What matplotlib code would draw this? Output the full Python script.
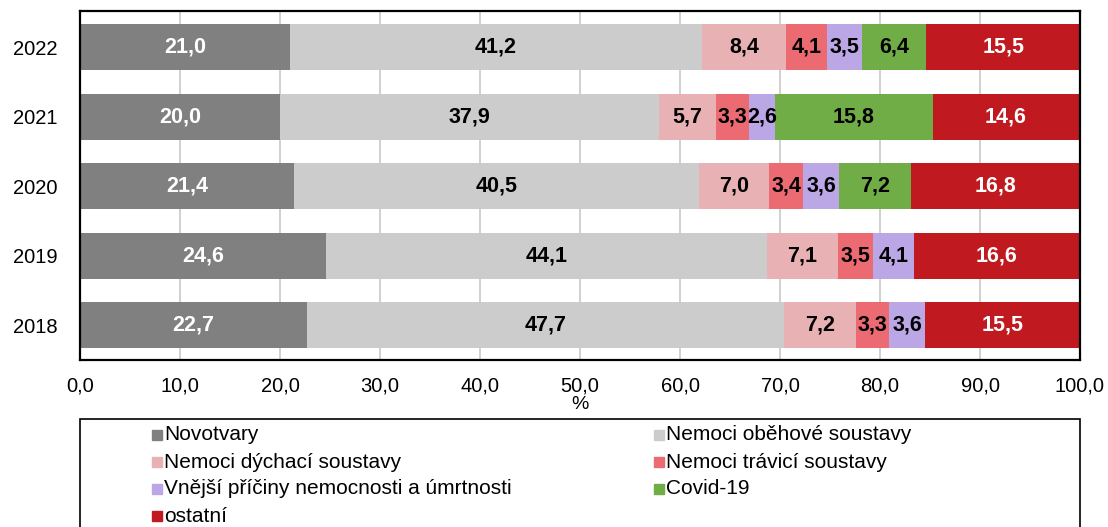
import matplotlib.pyplot as plt
from matplotlib.patches import Rectangle

years = ["2018", "2019", "2020", "2021", "2022"]
categories = [
    "Novotvary",
    "Nemoci oběhové soustavy",
    "Nemoci dýchací soustavy",
    "Nemoci trávicí soustavy",
    "Vnější příčiny nemocnosti a úmrtnosti",
    "Covid-19",
    "ostatní",
]
novotvary = [22.7, 24.6, 21.4, 20.0, 21.0]
obehove = [47.7, 44.1, 40.5, 37.9, 41.2]
dychaci = [7.2, 7.1, 7.0, 5.7, 8.4]
travici = [3.3, 3.5, 3.4, 3.3, 4.1]
vnejsi = [3.6, 4.1, 3.6, 2.6, 3.5]
covid = [0.0, 0.0, 7.2, 15.8, 6.4]
ostatni = [15.5, 16.6, 16.8, 14.6, 15.5]
series = [novotvary, obehove, dychaci, travici, vnejsi, covid, ostatni]

colors = ["#808080", "#cccccc", "#e8b1b4", "#ec6b73", "#bba6e6", "#70ad47", "#c0191f"]
label_colors = ["white", "black", "black", "black", "black", "black", "white"]

plt.rcParams["font.family"] = ["Liberation Sans", "DejaVu Sans"]

fig = plt.figure(figsize=(11.08, 5.27), dpi=100)
ax = fig.add_axes([80 / 1108, 1 - 360 / 527, 1000 / 1108, 349 / 527])

ypos = list(range(len(years)))
left = [0.0] * len(years)
for vals, col, lc in zip(series, colors, label_colors):
    ax.barh(ypos, vals, left=left, height=0.66, color=col, zorder=2)
    for i, v in enumerate(vals):
        if v > 0:
            ax.text(left[i] + v / 2, ypos[i], f"{v:.1f}".replace(".", ","),
                    ha="center", va="center", color=lc, fontsize=15.5,
                    fontweight="bold", zorder=3)
    left = [l + v for l, v in zip(left, vals)]

ax.set_xlim(0, 100)
ax.set_ylim(-0.5, 4.52)
ax.set_yticks(ypos)
ax.set_yticklabels(years, fontsize=14.5)
xt = list(range(0, 101, 10))
ax.set_xticks(xt)
ax.set_xticklabels([f"{x:.1f}".replace(".", ",") for x in xt], fontsize=14.5)
ax.tick_params(length=0, axis="x", pad=12)
ax.tick_params(length=0, axis="y", pad=16)
ax.grid(axis="x", color="#c8c8c8", linewidth=1.2, zorder=0)
ax.set_axisbelow(True)
for s in ax.spines.values():
    s.set_linewidth(1.6)
    s.set_color("black")
ax.set_xlabel("%", fontsize=14, labelpad=0)

# legend box drawn by hand, row-wise order
fig.add_artist(Rectangle((80 / 1108, -0.05), 1000 / 1108, (527 - 419) / 527 + 0.05,
                         transform=fig.transFigure, fill=False,
                         edgecolor="black", linewidth=1.2))
col_x = [152, 654]
for k, (name, col) in enumerate(zip(categories, colors)):
    r, c = divmod(k, 2)
    x = col_x[c]
    y = 435 + r * 27
    fig.add_artist(Rectangle((x / 1108, 1 - (y + 5) / 527), 10 / 1108, 10 / 527,
                             transform=fig.transFigure, color=col))
    fig.text((x + 12) / 1108, 1 - y / 527, name, ha="left", va="center",
             fontsize=15)

fig.savefig("out.png", dpi=100)
